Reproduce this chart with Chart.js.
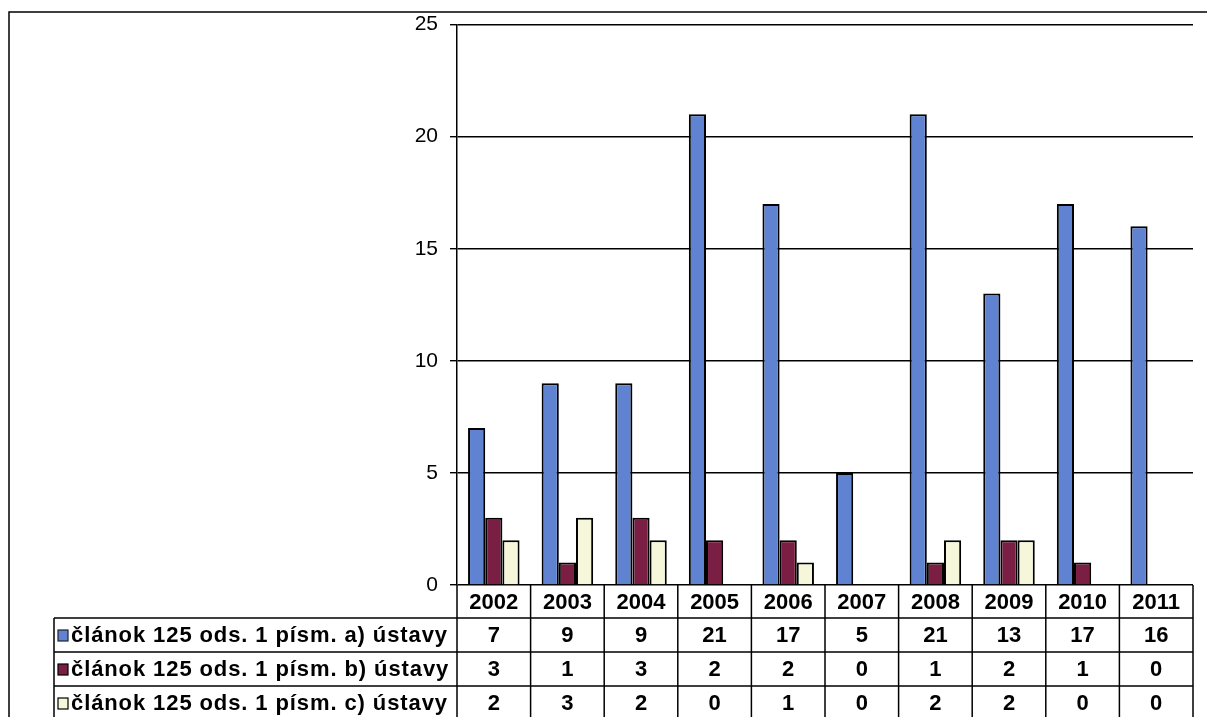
<!DOCTYPE html>
<html>
<head>
<meta charset="utf-8">
<script src="https://cdn.jsdelivr.net/npm/chart.js@4/dist/chart.umd.min.js"></script>
<style>
  html, body { margin: 0; padding: 0; background: #fff; }
  #wrap { width: 1207px; height: 717px; }
</style>
</head>
<body>
<div id="wrap"><canvas id="chart" width="1207" height="717"></canvas></div>
<script>
// údaje z grafu
const years = ['2002', '2003', '2004', '2005', '2006', '2007', '2008', '2009', '2010', '2011'];
const seriesNames = [
  'článok 125 ods. 1 písm. a) ústavy',
  'článok 125 ods. 1 písm. b) ústavy',
  'článok 125 ods. 1 písm. c) ústavy'
];
const clanokA = [7, 9, 9, 21, 17, 5, 21, 13, 17, 16];
const clanokB = [3, 1, 3, 2, 2, 0, 1, 2, 1, 0];
const clanokC = [2, 3, 2, 0, 1, 0, 2, 2, 0, 0];
const yTicks = [0, 5, 10, 15, 20, 25];

const colors = ['#5F83D0', '#7A1F43', '#F6F6DA'];
const allSeries = [clanokA, clanokB, clanokC];
const FONT = '"Liberation Sans", Arial, sans-serif';

// tabuľka s údajmi pod grafom + rám
const tablePlugin = {
  id: 'dataTable',
  afterDraw(chart) {
    const ctx = chart.ctx;
    const area = chart.chartArea;
    const xs = chart.scales.x;
    const colW = (area.right - area.left) / years.length;
    const top = area.bottom;
    const headBottom = top + 33;
    const rowH = 34;
    const legendLeft = 54;

    ctx.save();
    ctx.strokeStyle = '#000';
    ctx.lineWidth = 1.5;

    // vonkajší rám
    ctx.beginPath();
    ctx.moveTo(9, 717);
    ctx.lineTo(9, 12);
    ctx.lineTo(1207, 12);
    ctx.stroke();

    // zvislé čiary stĺpcov
    ctx.beginPath();
    for (let i = 0; i <= years.length; i++) {
      const x = area.left + i * colW;
      ctx.moveTo(x, top);
      ctx.lineTo(x, 717);
    }
    ctx.moveTo(legendLeft, headBottom);
    ctx.lineTo(legendLeft, 717);
    // vodorovné čiary
    for (let r = 0; r < 3; r++) {
      const y = headBottom + r * rowH;
      ctx.moveTo(legendLeft, y);
      ctx.lineTo(area.right, y);
    }
    ctx.stroke();

    ctx.fillStyle = '#000';
    ctx.font = 'bold 22px ' + FONT;
    ctx.textAlign = 'center';
    ctx.textBaseline = 'middle';
    years.forEach((yr, i) => {
      ctx.fillText(yr, xs.getPixelForValue(i), (top + headBottom) / 2 + 1);
    });

    allSeries.forEach((vals, r) => {
      const cy = headBottom + r * rowH + rowH / 2 + 1;
      ctx.textAlign = 'center';
      ctx.letterSpacing = '0px';
      vals.forEach((v, i) => {
        ctx.fillText(String(v), xs.getPixelForValue(i), cy);
      });
      // legenda
      ctx.fillStyle = colors[r];
      ctx.fillRect(58, cy - 6, 10, 11);
      ctx.lineWidth = 1.2;
      ctx.strokeStyle = r === 0 ? '#223' : '#000';
      ctx.strokeRect(58, cy - 6, 10, 11);
      ctx.fillStyle = '#000';
      ctx.textAlign = 'left';
      ctx.letterSpacing = '0.9px';
      ctx.fillText(seriesNames[r], 71, cy);
    });
    ctx.restore();
  }
};

new Chart(document.getElementById('chart'), {
  type: 'bar',
  data: {
    labels: years,
    datasets: allSeries.map((vals, i) => ({
      label: seriesNames[i],
      data: vals,
      backgroundColor: colors[i],
      borderColor: '#000',
      borderWidth: 2
    }))
  },
  options: {
    responsive: false,
    animation: false,
    devicePixelRatio: 1,
    layout: { padding: { left: 0, top: 24, right: 14, bottom: 132 } },
    datasets: { bar: { categoryPercentage: 0.7, barPercentage: 1.0 } },
    plugins: { legend: { display: false }, tooltip: { enabled: false } },
    scales: {
      x: { display: false },
      y: {
        min: 0,
        max: 25,
        afterBuildTicks: scale => { scale.ticks = yTicks.map(v => ({ value: v })); },
        afterFit: scale => { scale.width = 457; },
        grid: { color: '#000', lineWidth: 1.4, tickLength: 7, drawTicks: true },
        border: { display: true, color: '#000', width: 1.5 },
        ticks: {
          color: '#000',
          padding: 12,
          font: { family: FONT, size: 21 }
        }
      }
    }
  },
  plugins: [tablePlugin]
});
</script>
</body>
</html>
